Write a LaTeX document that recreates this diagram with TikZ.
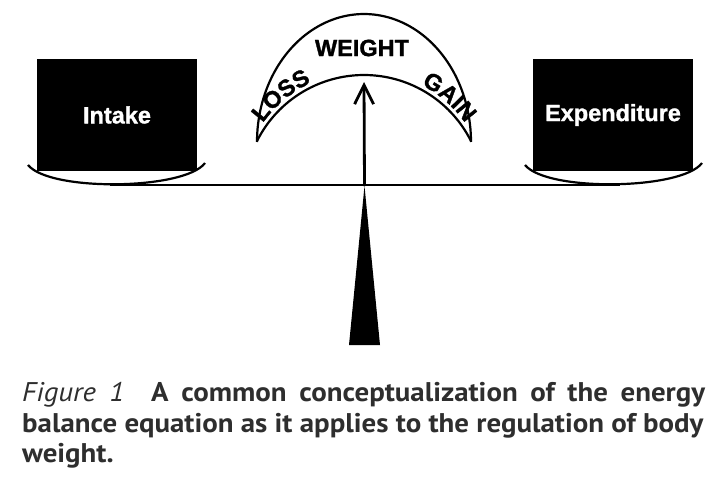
\documentclass[tikz,border=0pt]{standalone}
\usepackage{fontspec}
\setmainfont{Liberation Sans}
\newfontfamily\lblfont{Liberation Sans}[BoldFeatures={FakeBold=1.3}]
\newfontfamily\capfont[FakeStretch=1.07]{PT Sans}
\usetikzlibrary{arrows.meta,decorations.text}
\definecolor{capgray}{HTML}{2E2E2E}
\begin{document}
\begin{tikzpicture}[x=1pt,y=-1pt,
  pan/.style={line width=2.2pt},
  dial/.style={line width=2.2pt},
  lbl/.style={font=\lblfont\fontsize{23.5}{26}\selectfont\bfseries, inner sep=0pt},
  box/.style={fill=black, draw=none, minimum width=160pt, minimum height=112pt,
    text=white, font=\lblfont\fontsize{23.5}{26}\selectfont\bfseries, inner sep=0pt},
  capline/.style={anchor=base west, inner sep=0pt, text=capgray,
    font=\capfont\fontsize{27}{30}\selectfont}]
\useasboundingbox (0,0) rectangle (716,488);
% boxes
\node[box] (intake) at (117,115) {Intake};
\node[box] (expend) at (613,115) {Expenditure};
% pans
\coordinate (panL1) at (28,165);
\coordinate (panL2) at (205,163);
\coordinate (panR1) at (525,165);
\coordinate (panR2) at (702,163);
\coordinate (beamL) at (110,185);
\coordinate (beamR) at (620,185);
\draw[pan] (panL1) .. controls (50,192) and (185,190) .. (panL2);
\draw[pan] (panR1) .. controls (547,192) and (682,190) .. (panR2);
\draw[line width=2.4pt] (beamL) -- (beamR);
% fulcrum
\coordinate (apex) at (364.5,186);
\coordinate (baseL) at (349,345);
\coordinate (baseR) at (380,345);
\fill (apex) -- (baseR) -- (baseL) -- cycle;
% dial
\draw[dial] plot[domain=180:0, samples=90] ({364+107*cos(\x)}, {142-128*sin(\x)});
\draw[dial] plot[domain=153.1:26.9, samples=70] ({364+119.7*cos(\x)}, {194.7-119.7*sin(\x)});
\coordinate (needle) at (364,82);
\draw[line width=2.8pt, -{Straight Barb[length=19pt,width=19pt,line width=2.8pt]}] (apex) -- (needle);
\node[lbl] (weight) at (362,48) {WEIGHT};
\path[decorate, decoration={text along path, text={|\lblfont\fontsize{23.5}{24}\selectfont\bfseries|LOSS}, text align={left indent=18pt}}]
  plot[domain=153:27, samples=70] ({364+124*cos(\x)}, {194.7-124*sin(\x)});
\path[decorate, decoration={text along path, text={|\lblfont\fontsize{23.5}{24}\selectfont\bfseries|GAIN}, text align={left indent=196pt}}]
  plot[domain=153:27, samples=70] ({364+124*cos(\x)}, {194.7-124*sin(\x)});
% caption
\node[capline] (cap1) at (22,401) {\makebox[683pt][s]{\itshape Figure 1\ \ \upshape\bfseries A common conceptualization of the energy}};
\node[capline] (cap2) at (22,432) {\bfseries balance equation as it applies to the regulation of body};
\node[capline] (cap3) at (22,462) {\bfseries weight.};
\end{tikzpicture}
\end{document}
